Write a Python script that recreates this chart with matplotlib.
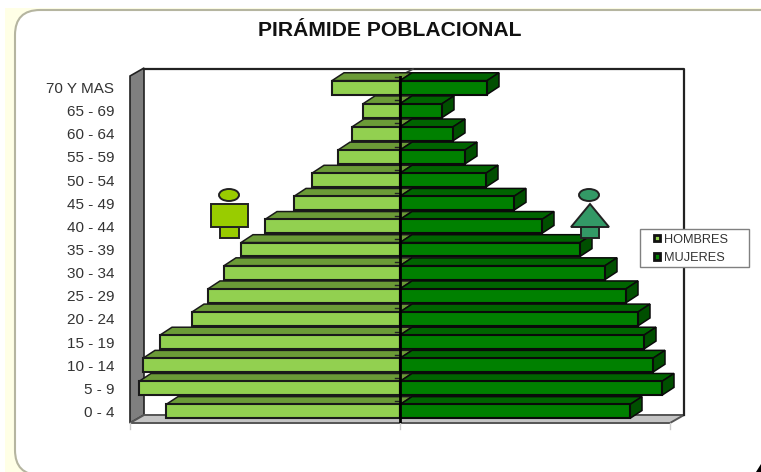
import matplotlib
matplotlib.use("Agg")
import matplotlib.pyplot as plt
from matplotlib.patches import Rectangle, Polygon, Ellipse, FancyBboxPatch, Patch

plt.rcParams["font.family"] = ["Liberation Sans", "DejaVu Sans"]

grupos = ["0 - 4", "5 - 9", "10 - 14", "15 - 19", "20 - 24", "25 - 29", "30 - 34", "35 - 39",
          "40 - 44", "45 - 49", "50 - 54", "55 - 59", "60 - 64", "65 - 69", "70 Y MAS"]
hombres = [234, 261, 257, 240, 208, 192, 176, 159, 135, 106, 88, 62, 48, 37, 68]
mujeres = [230, 262, 253, 244, 238, 226, 205, 180, 142, 114, 86, 65, 53, 42, 87]

verde_h = "#92D050"
verde_h_top = "#6B9B37"
verde_m = "#008000"
verde_m_top = "#006400"
verde_m_side = "#004F00"
alto = 0.6
dx = 12
dy = 0.34

W, H = 761, 472
fig = plt.figure(figsize=(W / 100, H / 100), dpi=100)

# fondo y adornos, en pixeles
bg = fig.add_axes([0, 0, 1, 1], zorder=0)
bg.set_xlim(0, W)
bg.set_ylim(H, 0)
bg.axis("off")
bg.add_patch(Rectangle((5, 8), W, H, fc="#FFFFE6", ec="none"))
bg.add_patch(FancyBboxPatch((40, 35), 760, 415, boxstyle="round,pad=25,rounding_size=25",
                            fc="white", ec="#B5B5A0", lw=1.5))
bg.add_patch(Polygon([(756, 472), (761, 464), (761, 472)], fc="black", ec="none"))
bg.text(390, 30, "PIRÁMIDE POBLACIONAL", ha="center", va="center", fontsize=15.2, fontweight="bold", color="#111111")

# paredes 3D
bg.add_patch(Rectangle((144, 69), 540, 346, fc="white", ec="none"))
bg.plot([144, 684, 684], [69, 69, 415], color="#222222", lw=1.6)
bg.add_patch(Polygon([(130, 76), (144, 68), (144, 415), (130, 423)], fc="#7F7F7F", ec="#222222", lw=1.2))
bg.add_patch(Polygon([(130, 423), (144, 415), (684, 415), (670, 423)], fc="#C4C4C4", ec="#555555", lw=1.4))
bg.plot([400, 413, 413], [76, 69, 69], color="#444444", lw=1.2)
for x in [130, 400, 670]:
    bg.plot([x, x], [423, 429], color="#CCCCCC", lw=1)

# piramide
ax = fig.add_axes([130 / W, 1 - 423 / H, 540 / W, 347 / H], zorder=1)
ax.patch.set_alpha(0)
ax.set_xlim(-270, 270)
ax.set_ylim(-0.5, 14.5)
for s in ax.spines.values():
    s.set_visible(False)
ax.set_xticks([])
ax.set_yticks(range(len(grupos)))
ax.set_yticklabels(grupos, fontsize=11, color="#333333")
ax.tick_params(axis="y", length=0, pad=11.5)

for i in range(len(grupos) - 1, -1, -1):
    z = 20 - i
    top = i + alto / 2
    bot = i - alto / 2
    h = hombres[i]
    m = mujeres[i]
    ax.add_patch(Polygon([(-h, top), (-h + dx, top + dy), (dx, top + dy), (0, top)],
                         fc=verde_h_top, ec="#1A1A1A", lw=1.1, zorder=z, clip_on=False))
    ax.barh(i, -h, height=alto, color=verde_h, edgecolor="#1A1A1A", linewidth=1.5, zorder=z)
    ax.add_patch(Polygon([(0, top), (dx, top + dy), (m + dx, top + dy), (m, top)],
                         fc=verde_m_top, ec="#0A0A0A", lw=1.1, zorder=z, clip_on=False))
    ax.add_patch(Polygon([(m, top), (m + dx, top + dy), (m + dx, bot + dy), (m, bot)],
                         fc=verde_m_side, ec="#0A0A0A", lw=1.1, zorder=z, clip_on=False))
    ax.barh(i, m, height=alto, color=verde_m, edgecolor="#0A0A0A", linewidth=1.5, zorder=z)
    ax.plot([-5, 0], [top + 0.15, top + 0.15], color="#222222", lw=1, zorder=z, clip_on=False)
ax.axvline(0, color="black", lw=2, zorder=30)

# iconos y leyenda
fg = fig.add_axes([0, 0, 1, 1], zorder=2)
fg.patch.set_alpha(0)
fg.set_xlim(0, W)
fg.set_ylim(H, 0)
fg.axis("off")
borde = "#222222"
fg.add_patch(Ellipse((229, 195), 20, 12, fc="#99CC00", ec=borde, lw=1.4))
fg.add_patch(Rectangle((220, 227), 19, 11, fc="#99CC00", ec=borde, lw=1.4))
fg.add_patch(Rectangle((211, 204), 37, 23, fc="#99CC00", ec=borde, lw=1.4))
fg.add_patch(Ellipse((589, 195), 20, 12, fc="#339966", ec=borde, lw=1.4))
fg.add_patch(Rectangle((581, 227), 18, 11, fc="#339966", ec=borde, lw=1.4))
fg.add_patch(Polygon([(590, 204), (571, 227), (609, 227)], fc="#339966", ec=borde, lw=1.4))

fg.add_patch(Rectangle((640, 229), 109, 38, fc="white", ec="#808080", lw=1))
handles = [Patch(fc=verde_h, ec="#111111", lw=2), Patch(fc=verde_m, ec="#111111", lw=2)]
leg = fg.legend(handles, ["HOMBRES", "MUJERES"], loc="center left", bbox_to_anchor=(654 / W, 1 - 249 / H),
                frameon=False, fontsize=9.2, handlelength=0.5, handleheight=0.4, handletextpad=0.25,
                labelspacing=0.5, borderpad=0, borderaxespad=0, labelcolor="#333333")

fig.savefig("out.png", dpi=100)
